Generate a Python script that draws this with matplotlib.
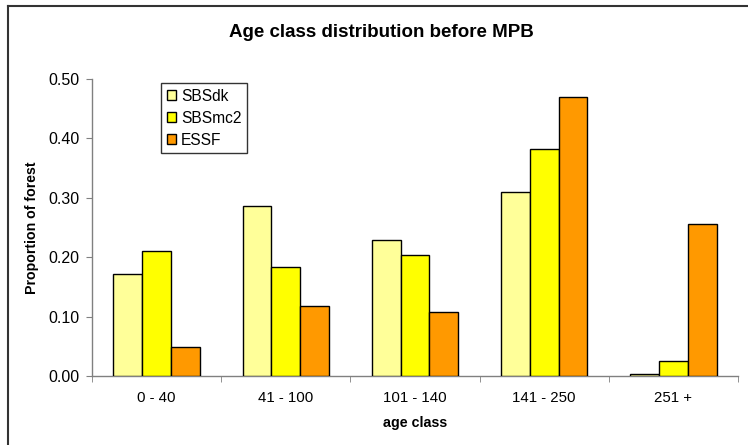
import matplotlib
matplotlib.use("Agg")
import matplotlib.pyplot as plt
import numpy as np
from matplotlib.lines import Line2D

plt.rcParams["font.family"] = ["Liberation Sans", "DejaVu Sans"]

age_classes = ["0 - 40", "41 - 100", "101 - 140", "141 - 250", "251 +"]
sbsdk = [0.172, 0.287, 0.229, 0.309, 0.003]
sbsmc2 = [0.210, 0.183, 0.203, 0.382, 0.025]
essf = [0.049, 0.118, 0.108, 0.469, 0.256]

series = [("SBSdk", sbsdk, "#FFFF99"),
          ("SBSmc2", sbsmc2, "#FFFF00"),
          ("ESSF", essf, "#FF9900")]

fig = plt.figure(figsize=(7.48, 4.45), dpi=100)
ax = fig.add_axes([0.1230, 0.1551, 0.8636, 0.6674])

x = np.arange(len(age_classes))
width = 0.223
for i, (name, vals, colour) in enumerate(series):
    ax.bar(x + (i - 1) * width, vals, width, color=colour,
           edgecolor="black", linewidth=1.0, label=name, zorder=3)

ax.set_xlim(-0.5, len(age_classes) - 0.5)
ax.set_ylim(0, 0.5)
ax.set_yticks(np.arange(0, 0.51, 0.1))
ax.set_yticklabels([f"{v:.2f}" for v in np.arange(0, 0.51, 0.1)], fontsize=11.5)

# category labels at centres, tick marks at the boundaries
ax.set_xticks(x)
ax.set_xticklabels(age_classes, fontsize=10.8)
ax.tick_params(axis="x", which="major", length=0, pad=11)
ax.set_xticks(np.arange(-0.5, len(age_classes)), minor=True)
ax.tick_params(axis="x", which="minor", length=4, color="#808080", direction="out")
ax.tick_params(axis="y", length=4, color="#808080", direction="out", pad=5)

for side in ["top", "right"]:
    ax.spines[side].set_visible(False)
for side in ["left", "bottom"]:
    ax.spines[side].set_color("#808080")
    ax.spines[side].set_linewidth(1.0)

ax.set_xlabel("age class", fontsize=10.3, fontweight="bold", labelpad=8)
ax.set_ylabel("Proportion of forest", fontsize=10.2, fontweight="bold", labelpad=7)
fig.text(0.5095, 0.928, "Age class distribution before MPB", ha="center",
         va="center", fontsize=13.5, fontweight="bold")

leg = ax.legend(loc="upper left", bbox_to_anchor=(0.1075, 0.985), fontsize=11.2,
                frameon=True, fancybox=False, edgecolor="black",
                handlelength=0.6, handleheight=0.6, handletextpad=0.3,
                labelspacing=0.45, borderpad=0.35, borderaxespad=0)
leg.get_frame().set_linewidth(1.0)

# outer frame of the chart area
fig.add_artist(Line2D([8 / 748, 1], [1 - 5.5 / 445] * 2, color="#333333", lw=1.5,
                      transform=fig.transFigure))
fig.add_artist(Line2D([8 / 748] * 2, [0, 1 - 5.5 / 445], color="#333333", lw=1.5,
                      transform=fig.transFigure))

fig.savefig("out.png", dpi=100)
